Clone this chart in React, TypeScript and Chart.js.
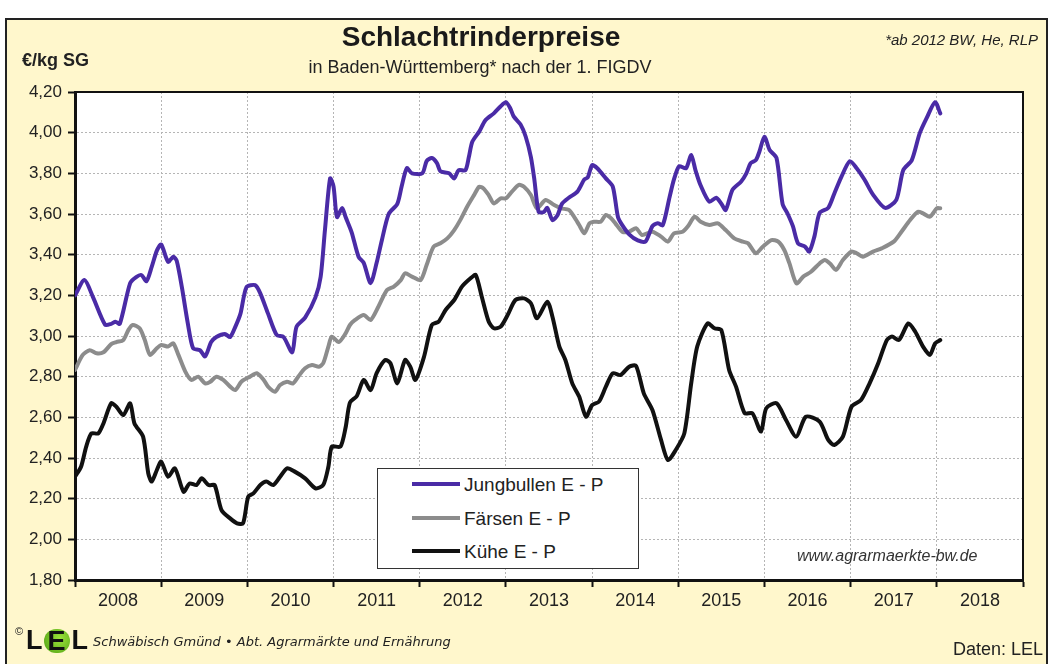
import React, { useEffect, useRef } from 'react';
import { Chart, registerables } from 'chart.js';

Chart.register(...registerables);

// ---------- data (decimal years / €/kg SG) ----------
const jungbullenX = [
  2008.00, 2008.11, 2008.21, 2008.35, 2008.42, 2008.47, 2008.52, 2008.64, 2008.71, 2008.77, 2008.83, 2008.89, 2008.95,
  2009.00, 2009.08, 2009.14, 2009.18, 2009.24, 2009.31, 2009.37, 2009.45, 2009.51, 2009.58, 2009.64, 2009.74, 2009.80, 2009.86, 2009.92, 2009.99,
  2010.09, 2010.15, 2010.24, 2010.34, 2010.42, 2010.52, 2010.57, 2010.67, 2010.79, 2010.85, 2010.90, 2010.96,
  2011.00, 2011.04, 2011.10, 2011.14, 2011.21, 2011.29, 2011.35, 2011.43, 2011.50, 2011.56, 2011.64, 2011.74, 2011.79, 2011.85, 2011.91,
  2012.03, 2012.08, 2012.14, 2012.20, 2012.24, 2012.34, 2012.40, 2012.45, 2012.53, 2012.57, 2012.61, 2012.69, 2012.76, 2012.86, 2012.94,
  2013.00, 2013.05, 2013.09, 2013.17, 2013.23, 2013.29, 2013.33, 2013.38, 2013.44, 2013.48, 2013.54, 2013.60, 2013.65, 2013.73, 2013.83, 2013.91, 2013.95,
  2014.00, 2014.06, 2014.16, 2014.24, 2014.30, 2014.35, 2014.43, 2014.53, 2014.62, 2014.70, 2014.76, 2014.82, 2014.90, 2014.95,
  2015.01, 2015.09, 2015.15, 2015.20, 2015.26, 2015.36, 2015.44, 2015.50, 2015.55, 2015.63, 2015.73, 2015.79, 2015.84, 2015.90, 2015.94,
  2016.00, 2016.06, 2016.14, 2016.21, 2016.27, 2016.33, 2016.39, 2016.47, 2016.52, 2016.58, 2016.64, 2016.74, 2016.81, 2016.89, 2016.99,
  2017.07, 2017.16, 2017.26, 2017.40, 2017.53, 2017.61, 2017.71, 2017.80, 2017.88, 2017.98, 2018.04,
];
const jungbullenY = [
  3.20, 3.275, 3.19, 3.055, 3.06, 3.07, 3.06, 3.26, 3.29, 3.30, 3.27, 3.34, 3.42,
  3.45, 3.365, 3.39, 3.37, 3.24, 3.06, 2.94, 2.93, 2.90, 2.97, 2.995, 3.01, 2.995, 3.045, 3.11, 3.24,
  3.25, 3.21, 3.11, 3.005, 2.995, 2.92, 3.045, 3.09, 3.19, 3.29, 3.52, 3.775,
  3.735, 3.585, 3.63, 3.585, 3.51, 3.39, 3.36, 3.26, 3.36, 3.47, 3.60, 3.65, 3.735, 3.825, 3.80,
  3.80, 3.86, 3.875, 3.85, 3.81, 3.80, 3.775, 3.815, 3.815, 3.88, 3.955, 4.005, 4.06, 4.095, 4.13,
  4.15, 4.12, 4.08, 4.04, 3.98, 3.88, 3.77, 3.61, 3.61, 3.63, 3.57, 3.595, 3.65, 3.68, 3.71, 3.77, 3.78,
  3.84, 3.825, 3.775, 3.735, 3.585, 3.545, 3.50, 3.47, 3.465, 3.54, 3.555, 3.545, 3.685, 3.77,
  3.835, 3.825, 3.89, 3.815, 3.74, 3.66, 3.68, 3.65, 3.62, 3.72, 3.76, 3.80, 3.85, 3.865, 3.905,
  3.98, 3.915, 3.875, 3.65, 3.60, 3.54, 3.455, 3.44, 3.415, 3.49, 3.605, 3.63, 3.70, 3.78, 3.86,
  3.825, 3.77, 3.695, 3.63, 3.67, 3.815, 3.865, 3.995, 4.07, 4.15, 4.095,
];

const faersenX = [
  2008.00, 2008.09, 2008.17, 2008.25, 2008.33, 2008.42, 2008.48, 2008.56, 2008.62, 2008.67, 2008.75, 2008.81, 2008.87, 2008.95,
  2009.00, 2009.08, 2009.14, 2009.20, 2009.28, 2009.35, 2009.43, 2009.51, 2009.57, 2009.64, 2009.72, 2009.80, 2009.86, 2009.93,
  2010.03, 2010.11, 2010.19, 2010.24, 2010.32, 2010.38, 2010.46, 2010.53, 2010.59, 2010.67, 2010.75, 2010.83, 2010.88, 2010.94, 2010.98,
  2011.06, 2011.14, 2011.19, 2011.25, 2011.35, 2011.43, 2011.52, 2011.62, 2011.70, 2011.78, 2011.83, 2011.91,
  2012.01, 2012.08, 2012.16, 2012.24, 2012.32, 2012.40, 2012.47, 2012.55, 2012.63, 2012.69, 2012.74, 2012.80, 2012.86, 2012.94,
  2013.00, 2013.07, 2013.15, 2013.21, 2013.29, 2013.36, 2013.46, 2013.56, 2013.64, 2013.73, 2013.79, 2013.85, 2013.91, 2013.97,
  2014.02, 2014.10, 2014.16, 2014.22, 2014.27, 2014.35, 2014.43, 2014.51, 2014.58, 2014.70, 2014.80, 2014.88, 2014.95,
  2015.05, 2015.11, 2015.19, 2015.26, 2015.36, 2015.46, 2015.55, 2015.65, 2015.75, 2015.81, 2015.90, 2015.98,
  2016.08, 2016.16, 2016.23, 2016.29, 2016.37, 2016.45, 2016.54, 2016.64, 2016.70, 2016.76, 2016.83, 2016.91,
  2017.01, 2017.07, 2017.14, 2017.26, 2017.36, 2017.50, 2017.59, 2017.69, 2017.78, 2017.84, 2017.92, 2018.00, 2018.04,
];
const faersenY = [
  2.833, 2.907, 2.93, 2.915, 2.92, 2.96, 2.97, 2.98, 3.03, 3.054, 3.038, 2.98, 2.907, 2.94,
  2.956, 2.948, 2.964, 2.907, 2.825, 2.784, 2.80, 2.767, 2.775, 2.80, 2.784, 2.751, 2.734, 2.775,
  2.80, 2.817, 2.784, 2.751, 2.726, 2.759, 2.775, 2.767, 2.80, 2.841, 2.857, 2.849, 2.866, 2.948, 2.997,
  2.97, 3.013, 3.054, 3.079, 3.103, 3.079, 3.144, 3.226, 3.243, 3.275, 3.308, 3.292,
  3.275, 3.349, 3.439, 3.456, 3.48, 3.521, 3.57, 3.636, 3.693, 3.734, 3.726, 3.693, 3.652, 3.677,
  3.677, 3.71, 3.743, 3.734, 3.693, 3.628, 3.669, 3.644, 3.628, 3.62, 3.587, 3.546, 3.505, 3.554,
  3.562, 3.562, 3.595, 3.579, 3.554, 3.513, 3.513, 3.53, 3.497, 3.513, 3.489, 3.464, 3.505,
  3.513, 3.538, 3.587, 3.562, 3.546, 3.554, 3.521, 3.48, 3.464, 3.456, 3.407, 3.439,
  3.472, 3.464, 3.423, 3.357, 3.259, 3.292, 3.316, 3.357, 3.374, 3.357, 3.325, 3.374,
  3.415, 3.407, 3.39, 3.415, 3.431, 3.464, 3.513, 3.57, 3.611, 3.603, 3.587, 3.628, 3.628,
];

const kueheX = [
  2008.00, 2008.07, 2008.13, 2008.19, 2008.27, 2008.33, 2008.42, 2008.48, 2008.56, 2008.64, 2008.69, 2008.79, 2008.85, 2008.89, 2008.95,
  2009.00, 2009.08, 2009.16, 2009.26, 2009.33, 2009.41, 2009.47, 2009.55, 2009.62, 2009.70, 2009.80, 2009.88, 2009.95,
  2010.01, 2010.07, 2010.15, 2010.22, 2010.30, 2010.38, 2010.46, 2010.55, 2010.67, 2010.79, 2010.88, 2010.94, 2010.98,
  2011.08, 2011.14, 2011.19, 2011.27, 2011.35, 2011.43, 2011.50, 2011.60, 2011.66, 2011.74, 2011.83, 2011.89, 2011.95,
  2012.05, 2012.14, 2012.22, 2012.30, 2012.40, 2012.49, 2012.59, 2012.65, 2012.72, 2012.80, 2012.86, 2012.94,
  2013.02, 2013.11, 2013.21, 2013.29, 2013.36, 2013.48, 2013.54, 2013.62, 2013.69, 2013.77, 2013.85, 2013.93,
  2014.00, 2014.08, 2014.16, 2014.24, 2014.33, 2014.43, 2014.51, 2014.60, 2014.70, 2014.80, 2014.88, 2014.97,
  2015.07, 2015.15, 2015.22, 2015.34, 2015.42, 2015.50, 2015.59, 2015.67, 2015.77, 2015.86, 2015.96,
  2016.02, 2016.14, 2016.25, 2016.37, 2016.48, 2016.64, 2016.74, 2016.81, 2016.91,
  2017.01, 2017.12, 2017.22, 2017.32, 2017.42, 2017.48, 2017.56, 2017.67, 2017.75, 2017.84, 2017.92, 2017.98, 2018.04,
];
const kueheY = [
  2.308, 2.357, 2.456, 2.521, 2.521, 2.57, 2.669, 2.652, 2.611, 2.669, 2.57, 2.505, 2.325, 2.284, 2.341,
  2.382, 2.308, 2.349, 2.234, 2.275, 2.267, 2.30, 2.267, 2.267, 2.144, 2.103, 2.079, 2.079,
  2.21, 2.226, 2.267, 2.284, 2.267, 2.308, 2.349, 2.333, 2.30, 2.251, 2.267, 2.357, 2.456,
  2.456, 2.55, 2.672, 2.705, 2.784, 2.734, 2.817, 2.882, 2.866, 2.767, 2.882, 2.849, 2.784,
  2.898, 3.054, 3.071, 3.128, 3.177, 3.243, 3.284, 3.30, 3.193, 3.071, 3.038, 3.046,
  3.103, 3.177, 3.185, 3.161, 3.087, 3.169, 3.095, 2.948, 2.882, 2.767, 2.702, 2.603,
  2.66, 2.677, 2.751, 2.817, 2.808, 2.849, 2.853, 2.718, 2.636, 2.489, 2.39, 2.439,
  2.521, 2.767, 2.948, 3.062, 3.038, 3.029, 2.833, 2.751, 2.62, 2.62, 2.53,
  2.644, 2.669, 2.587, 2.505, 2.603, 2.579, 2.489, 2.464, 2.505,
  2.652, 2.685, 2.767, 2.866, 2.98, 2.997, 2.98, 3.062, 3.021, 2.948, 2.907, 2.964, 2.98,
];

const seriesLabels = ['Jungbullen E - P', 'Färsen E - P', 'Kühe E - P'];
const yearLabels = ['2008', '2009', '2010', '2011', '2012', '2013', '2014', '2015', '2016', '2017', '2018'];
const yTickValues = [1.8, 2.0, 2.2, 2.4, 2.6, 2.8, 3.0, 3.2, 3.4, 3.6, 3.8, 4.0, 4.2];
const yTickLabels = ['1,80', '2,00', '2,20', '2,40', '2,60', '2,80', '3,00', '3,20', '3,40', '3,60', '3,80', '4,00', '4,20'];

// ---------- styles ----------
const PURPLE = '#4a2ba6';
const GRAY = '#8c8c8c';
const BLACK = '#111111';
const COLORS = [PURPLE, GRAY, BLACK];
const FONT = '"Liberation Sans", Arial, sans-serif';
const CREAM = '#fff7cc';

const xStart = Number(yearLabels[0]);
const xEnd = Number(yearLabels[yearLabels.length - 1]) + 1;
const xTickValues: number[] = [];
yearLabels.forEach((y) => {
  const v = Number(y);
  xTickValues.push(v, v + 0.5);
});
xTickValues.push(xEnd);
const isBoundary = (v: number) => Math.abs(v - Math.round(v)) < 1e-6;

const plotFrame = {
  id: 'plotFrame',
  beforeDraw(chart: any) {
    const { ctx, chartArea } = chart;
    const { left, top, right, bottom } = chartArea;
    ctx.save();
    ctx.fillStyle = '#ffffff';
    ctx.fillRect(left, top, right - left, bottom - top);
    ctx.restore();
  },
  afterDraw(chart: any) {
    const { ctx, chartArea } = chart;
    const { left, top, right, bottom } = chartArea;
    ctx.save();
    ctx.strokeStyle = '#111';
    ctx.lineWidth = 2;
    ctx.beginPath();
    ctx.moveTo(left, top);
    ctx.lineTo(right, top);
    ctx.lineTo(right, bottom);
    ctx.stroke();
    ctx.restore();
  },
};

function ChartCanvas() {
  const ref = useRef<HTMLCanvasElement | null>(null);
  useEffect(() => {
    if (!ref.current) return;
    const mk = (xs: number[], ys: number[]) => xs.map((x, i) => ({ x, y: ys[i] }));
    const allData = [mk(jungbullenX, jungbullenY), mk(faersenX, faersenY), mk(kueheX, kueheY)];
    const chart = new Chart(ref.current, {
      type: 'line',
      data: {
        datasets: allData.map((d, i) => ({
          label: seriesLabels[i],
          data: d,
          borderColor: COLORS[i],
          backgroundColor: COLORS[i],
          borderWidth: 4,
          pointRadius: 0,
          tension: 0.25,
          fill: false,
          borderJoinStyle: 'round',
          borderCapStyle: 'round',
        })),
      },
      options: {
        responsive: false,
        animation: false,
        devicePixelRatio: 1,
        layout: { padding: { top: 92, left: 0, right: 25, bottom: 44 } },
        plugins: {
          legend: { display: false },
          tooltip: { enabled: false },
          title: { display: false },
        },
        scales: {
          x: {
            type: 'linear',
            min: xStart,
            max: xEnd,
            afterBuildTicks: (s: any) => {
              s.ticks = xTickValues.map((v) => ({ value: v }));
            },
            afterFit: (s: any) => {
              s.height = 40;
            },
            ticks: {
              autoSkip: false,
              maxRotation: 0,
              minRotation: 0,
              padding: 3,
              color: '#222',
              font: { family: FONT, size: 18 },
              callback: (v: any) => {
                const n = Number(v);
                if (isBoundary(n)) return '';
                const idx = Math.round(n - 0.5) - xStart;
                return yearLabels[idx] ?? '';
              },
            },
            grid: {
              color: (c: any) => (c.tick && isBoundary(c.tick.value) ? '#b5b5b5' : 'rgba(0,0,0,0)'),
              tickColor: (c: any) => (c.tick && isBoundary(c.tick.value) ? '#111' : 'rgba(0,0,0,0)'),
              lineWidth: 1,
              tickLength: 7,
              tickWidth: 2,
            },
            border: { display: true, color: '#111', width: 3, dash: [2, 2] },
          },
          y: {
            type: 'linear',
            min: yTickValues[0],
            max: yTickValues[yTickValues.length - 1],
            afterBuildTicks: (s: any) => {
              s.ticks = yTickValues.map((v) => ({ value: v }));
            },
            afterFit: (s: any) => {
              s.width = 75;
            },
            ticks: {
              padding: 6,
              color: '#222',
              font: { family: FONT, size: 17 },
              callback: (_v: any, i: number) => yTickLabels[i],
            },
            grid: {
              color: '#b5b5b5',
              tickColor: '#111',
              lineWidth: 1,
              tickLength: 7,
              tickWidth: 2,
            },
            border: { display: true, color: '#111', width: 3, dash: [2, 2] },
          },
        },
      } as any,
      plugins: [plotFrame],
    });
    return () => chart.destroy();
  }, []);
  return (
    <canvas
      ref={ref}
      width={1048}
      height={664}
      style={{ position: 'absolute', left: 0, top: 0, width: 1048, height: 664 }}
    />
  );
}

const abs = (s: React.CSSProperties): React.CSSProperties => ({ position: 'absolute', whiteSpace: 'nowrap', lineHeight: 1, ...s });

export default function App() {
  return (
    <div style={{ position: 'fixed', left: 0, top: 0, width: 1048, height: 664, background: '#fff', overflow: 'hidden', fontFamily: FONT, color: '#222' }}>
      <div style={{ position: 'absolute', left: 5, top: 18, width: 1043, height: 700, boxSizing: 'border-box', border: '2px solid #222', background: CREAM }} />
      <ChartCanvas />
      {/* headings */}
      <div style={abs({ left: 231, width: 500, top: 23, textAlign: 'center', fontSize: 28, fontWeight: 'bold', color: '#1a1a1a' })}>Schlachtrinderpreise</div>
      <div style={abs({ left: 230, width: 500, top: 58, textAlign: 'center', fontSize: 18 })}>in Baden-Württemberg* nach der 1. FIGDV</div>
      <div style={abs({ left: 22, top: 51, fontSize: 18, fontWeight: 'bold' })}>€/kg SG</div>
      <div style={abs({ left: 838, width: 200, top: 32, textAlign: 'right', fontSize: 15, fontStyle: 'italic' })}>*ab 2012 BW, He, RLP</div>
      {/* watermark */}
      <div style={abs({ left: 797, top: 548, fontSize: 16, fontStyle: 'italic', color: '#333' })}>www.agrarmaerkte-bw.de</div>
      {/* legend */}
      <div style={{ position: 'absolute', left: 377, top: 468, width: 262, height: 101, boxSizing: 'border-box', border: '1.5px solid #333', background: '#fff' }} />
      {seriesLabels.map((l, i) => (
        <React.Fragment key={l}>
          <div style={{ position: 'absolute', left: 412, top: 482 + i * 33.7, width: 48, height: 4, background: COLORS[i] }} />
          <div style={abs({ left: 464, top: 475 + i * 33.7, fontSize: 19, color: '#222' })}>{l}</div>
        </React.Fragment>
      ))}
      {/* footer */}
      <div style={abs({ left: 15, top: 626, fontSize: 11 })}>©</div>
      <div style={abs({ left: 26, top: 627, fontSize: 27, fontWeight: 'bold', color: '#111', display: 'flex', alignItems: 'center' })}>
        <span>L</span>
        <span style={{ display: 'inline-block', width: 26, height: 24, borderRadius: 13, background: 'radial-gradient(circle at 60% 40%, #9be33a, #4e9e12)', textAlign: 'center', lineHeight: '24px', marginLeft: 1, marginRight: 2 }}>E</span>
        <span>L</span>
      </div>
      <div style={abs({ left: 93, top: 635, fontSize: 13, fontStyle: 'italic', fontFamily: '"DejaVu Sans", sans-serif', color: '#222' })}>Schwäbisch Gmünd • Abt. Agrarmärkte und Ernährung</div>
      <div style={abs({ left: 900, width: 143, top: 640, textAlign: 'right', fontSize: 18 })}>Daten: LEL</div>
    </div>
  );
}
